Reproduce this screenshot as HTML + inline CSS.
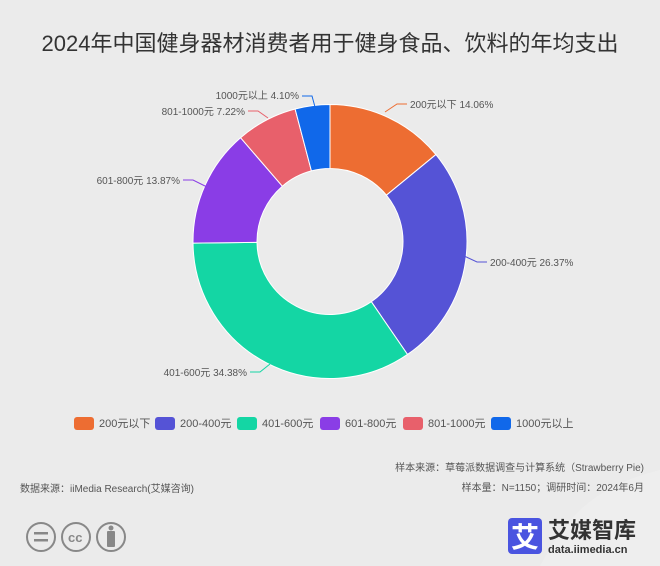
<!DOCTYPE html>
<html><head><meta charset="utf-8"><style>
body{margin:0;width:660px;height:566px;background:#ebebeb;font-family:"Liberation Sans","Noto Sans CJK SC",sans-serif;position:relative;overflow:hidden}
.t{position:absolute;white-space:nowrap}
</style></head><body>
<svg width="660" height="566" style="position:absolute;left:0;top:0">
<path d="M540 566 C 570 510, 600 485, 660 470 L660 566Z" fill="#eeeeee"/>
<g id="pie"></g>
<g fill="none" stroke-width="1">
<polyline points="385,112 397,104 407,104" stroke="#ed6d32"/>
<polyline points="462,255 477,262 487,262" stroke="#5553d6"/>
<polyline points="270,364 260,372 250,372" stroke="#14d6a4"/>
<polyline points="207,187 193,180 183,180" stroke="#8a3de6"/>
<polyline points="268,118 258,111 248,111" stroke="#e8606b"/>
<polyline points="315,107 312,96 302,96" stroke="#1068ea"/>
</g>
<g font-size="10" fill="#555" font-family="Liberation Sans,Noto Sans CJK SC,sans-serif">
<text x="410" y="108">200元以下 14.06%</text>
<text x="490" y="266">200-400元 26.37%</text>
<text x="247" y="376" text-anchor="end">401-600元 34.38%</text>
<text x="180" y="184" text-anchor="end">601-800元 13.87%</text>
<text x="245" y="115" text-anchor="end">801-1000元 7.22%</text>
<text x="299" y="99" text-anchor="end">1000元以上 4.10%</text>
</g>
<g font-size="11" fill="#555">
<rect x="74" y="417" width="20" height="13" rx="3" fill="#ed6d32"/><text x="99" y="427">200元以下</text>
<rect x="155" y="417" width="20" height="13" rx="3" fill="#5553d6"/><text x="180" y="427">200-400元</text>
<rect x="237" y="417" width="20" height="13" rx="3" fill="#14d6a4"/><text x="262" y="427">401-600元</text>
<rect x="320" y="417" width="20" height="13" rx="3" fill="#8a3de6"/><text x="345" y="427">601-800元</text>
<rect x="403" y="417" width="20" height="13" rx="3" fill="#e8606b"/><text x="428" y="427">801-1000元</text>
<rect x="491" y="417" width="20" height="13" rx="3" fill="#1068ea"/><text x="516" y="427">1000元以上</text>
</g>
<g fill="none" stroke="#888" stroke-width="2">
<circle cx="41" cy="537" r="14"/><circle cx="76" cy="537" r="14"/><circle cx="111" cy="537" r="14"/>
</g>
<g fill="#888"><rect x="34" y="532" width="14" height="2.5"/><rect x="34" y="539" width="14" height="2.5"/>
<text x="68" y="542" font-size="13" font-weight="bold">cc</text>
<circle cx="111" cy="528" r="2.5"/><rect x="107" y="531" width="8" height="16" rx="1"/></g>
<rect x="508" y="518" width="34" height="36" rx="4" fill="#4a54e0"/>
<text x="525" y="547" font-size="28" fill="#fff" text-anchor="middle" font-weight="bold">艾</text>
<text x="548" y="538" font-size="22" fill="#333" font-weight="bold">艾媒智库</text>
<text x="548" y="553" font-size="11" fill="#333" font-weight="bold">data.iimedia.cn</text>
</svg>
<div class="t" style="left:0;width:660px;top:26px;text-align:center;font-size:22px;color:#333">2024年中国健身器材消费者用于健身食品、饮料的年均支出</div>
<div class="t" style="right:16px;top:459px;font-size:10px;color:#555">样本来源：草莓派数据调查与计算系统（Strawberry Pie)</div>
<div class="t" style="right:16px;top:479px;font-size:10px;color:#555">样本量：N=1150；调研时间：2024年6月</div>
<div class="t" style="left:20px;top:480px;font-size:10px;color:#555">数据来源：iiMedia Research(艾媒咨询)</div>
<script>
var cx=330,cy=241.5,R=137,r=73;
var v=[14.06,26.37,34.38,13.87,7.22,4.10],c=["#ed6d32","#5553d6","#14d6a4","#8a3de6","#e8606b","#1068ea"];
var s=0,g=document.getElementById("pie"),h="";
function p(a,rad){return [cx+rad*Math.sin(a),cy-rad*Math.cos(a)];}
for(var i=0;i<6;i++){var a0=s/100*2*Math.PI;s+=v[i];var a1=s/100*2*Math.PI;var l=(a1-a0)>Math.PI?1:0;
var A=p(a0,R),B=p(a1,R),C=p(a1,r),D=p(a0,r);
h+='<path fill="'+c[i]+'" stroke="#fff" stroke-width="1" d="M'+A+' A'+R+','+R+' 0 '+l+' 1 '+B+' L'+C+' A'+r+','+r+' 0 '+l+' 0 '+D+'Z"/>';}
g.innerHTML=h;
</script>
</body></html>
